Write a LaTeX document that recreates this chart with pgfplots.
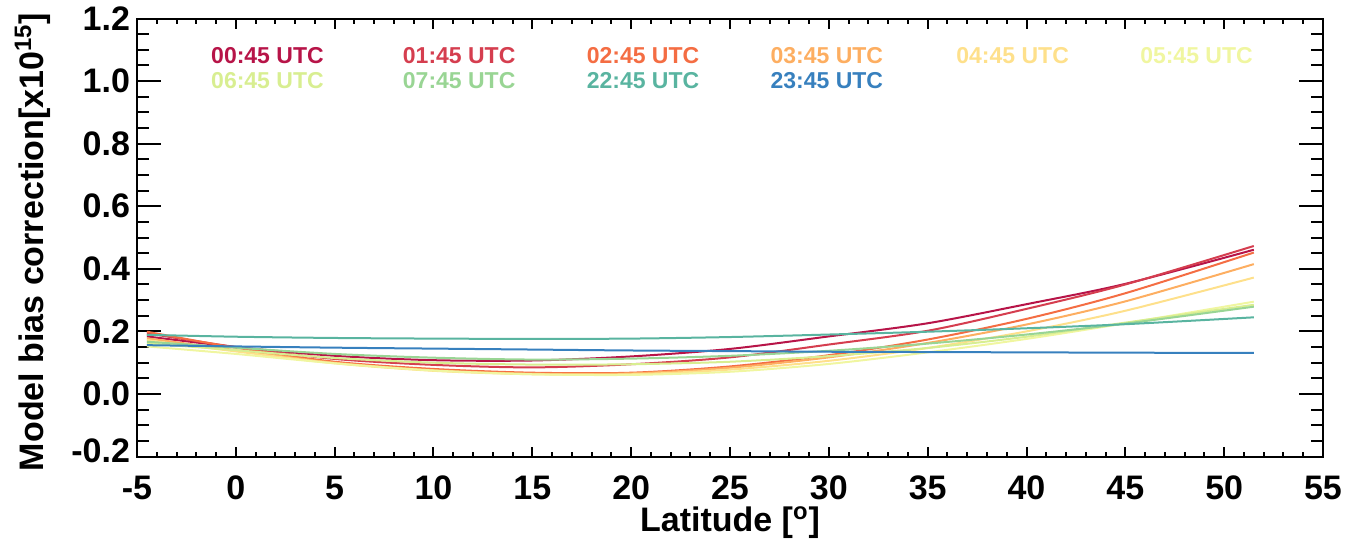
\documentclass[border=0pt]{standalone}
\usepackage{fontspec}
\setmainfont{Liberation Sans}
\usepackage{pgfplots}
\pgfplotsset{compat=1.18}
\usetikzlibrary{calc}

\definecolor{u0045}{RGB}{183,20,72}
\definecolor{u0145}{RGB}{213,62,79}
\definecolor{u0245}{RGB}{244,109,67}
\definecolor{u0345}{RGB}{253,174,97}
\definecolor{u0445}{RGB}{254,224,139}
\definecolor{u0545}{RGB}{240,246,160}
\definecolor{u0645}{RGB}{216,238,145}
\definecolor{u0745}{RGB}{153,213,148}
\definecolor{u2245}{RGB}{89,180,160}
\definecolor{u2345}{RGB}{55,128,190}

\begin{document}
\begin{tikzpicture}
\begin{axis}[
    scale only axis,
    width=593pt, height=219pt,
    xmin=-5, xmax=55, ymin=-0.2, ymax=1.2,
    xtick={-5,0,...,55},
    xticklabels={-5,0,5,10,15,20,25,30,35,40,45,50,55},
    ytick={-0.2,0,0.2,0.4,0.6,0.8,1.0,1.2},
    yticklabels={\raisebox{6pt}{-0.2},0.0,0.2,0.4,0.6,0.8,1.0,1.2},
    minor x tick num=4, minor y tick num=3,
    tick align=inside,
    axis line style={line width=1pt},
    every tick/.style={black, line width=1pt},
    xtick style={/pgfplots/major tick length=5pt,/pgfplots/minor tick length=2.5pt},
    ytick style={/pgfplots/major tick length=12pt,/pgfplots/minor tick length=6pt},
    tick label style={font=\fontsize{17}{17}\selectfont\bfseries},
    xticklabel style={yshift=-6pt},
    xlabel={Latitude [\textsuperscript{o}]},
    ylabel={Model bias correction[x10\textsuperscript{15}]},
    every axis x label/.style={at={(axis description cs:0.5,-0.151)},anchor=center,
        font=\fontsize{17}{17}\selectfont\bfseries},
    every axis y label/.style={at={(axis description cs:-0.088,0.49)},rotate=90,anchor=center,
        font=\fontsize{17}{17}\selectfont\bfseries},
    every axis plot/.append style={line width=1pt, smooth},
]
\addplot[u0045] coordinates {(-4.5,0.184)(0,0.150)(5,0.122)(10,0.108)(15,0.107)(20,0.120)(25,0.144)(30,0.184)(35,0.226)(40,0.287)(45,0.352)(51.5,0.461)};
\addplot[u0145] coordinates {(-4.5,0.194)(0,0.150)(5,0.112)(10,0.093)(15,0.085)(20,0.095)(25,0.117)(30,0.158)(35,0.202)(40,0.272)(45,0.350)(51.5,0.473)};
\addplot[u0245] coordinates {(-4.5,0.199)(0,0.148)(5,0.103)(10,0.080)(15,0.068)(20,0.068)(25,0.088)(30,0.124)(35,0.174)(40,0.240)(45,0.322)(51.5,0.452)};
\addplot[u0345] coordinates {(-4.5,0.178)(0,0.140)(5,0.100)(10,0.076)(15,0.065)(20,0.066)(25,0.084)(30,0.117)(35,0.163)(40,0.222)(45,0.296)(51.5,0.415)};
\addplot[u0445] coordinates {(-4.5,0.172)(0,0.136)(5,0.098)(10,0.074)(15,0.063)(20,0.063)(25,0.078)(30,0.106)(35,0.147)(40,0.200)(45,0.266)(51.5,0.372)};
\addplot[u0545] coordinates {(-4.5,0.152)(0,0.128)(5,0.098)(10,0.075)(15,0.063)(20,0.061)(25,0.071)(30,0.096)(35,0.133)(40,0.176)(45,0.226)(51.5,0.295)};
\addplot[u0645] coordinates {(-4.5,0.162)(0,0.140)(5,0.115)(10,0.100)(15,0.094)(20,0.095)(25,0.103)(30,0.121)(35,0.147)(40,0.183)(45,0.228)(51.5,0.285)};
\addplot[u0745] coordinates {(-4.5,0.167)(0,0.148)(5,0.128)(10,0.116)(15,0.110)(20,0.113)(25,0.122)(30,0.138)(35,0.161)(40,0.190)(45,0.225)(51.5,0.279)};
\addplot[u2245] coordinates {(-4.5,0.189)(0,0.183)(5,0.179)(10,0.177)(15,0.176)(20,0.177)(25,0.182)(30,0.190)(35,0.199)(40,0.210)(45,0.223)(51.5,0.245)};
\addplot[u2345] coordinates {(-4.5,0.156)(0,0.152)(5,0.148)(10,0.145)(15,0.142)(20,0.139)(25,0.137)(30,0.135)(35,0.134)(40,0.133)(45,0.132)(51.5,0.131)};

% time labels
\begin{scope}[every node/.style={font=\fontsize{11.5}{12}\selectfont\bfseries, anchor=center}]
\node[text=u0045] at (axis cs:1.6,1.083) {00:45 UTC};
\node[text=u0145] at (axis cs:11.3,1.083) {01:45 UTC};
\node[text=u0245] at (axis cs:20.6,1.083) {02:45 UTC};
\node[text=u0345] at (axis cs:29.9,1.083) {03:45 UTC};
\node[text=u0445] at (axis cs:39.3,1.083) {04:45 UTC};
\node[text=u0545] at (axis cs:48.6,1.083) {05:45 UTC};
\node[text=u0645] at (axis cs:1.6,1.003) {06:45 UTC};
\node[text=u0745] at (axis cs:11.3,1.003) {07:45 UTC};
\node[text=u2245] at (axis cs:20.6,1.003) {22:45 UTC};
\node[text=u2345] at (axis cs:29.9,1.003) {23:45 UTC};
\end{scope}
\end{axis}
\path ($(current axis.south west)+(-68.5pt,-45.5pt)$) ($(current axis.north east)+(18.5pt,8pt)$);
\end{tikzpicture}
\end{document}
